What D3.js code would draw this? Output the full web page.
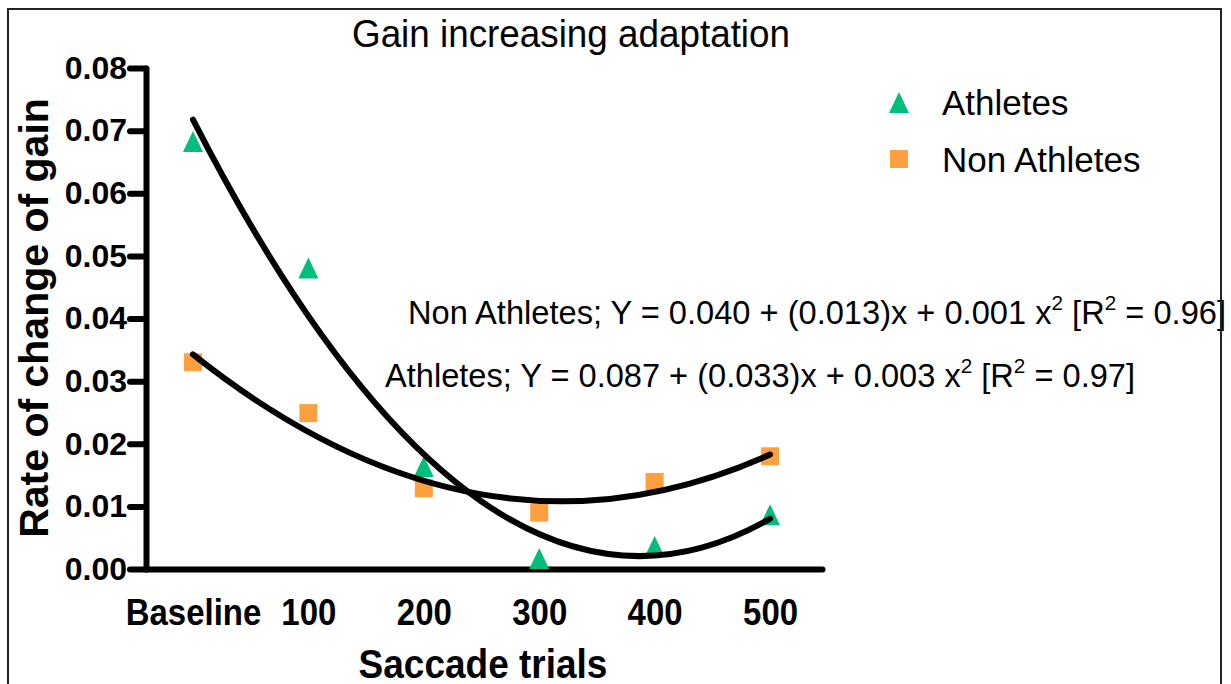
<!DOCTYPE html>
<html>
<head>
<meta charset="utf-8">
<script src="https://cdn.jsdelivr.net/npm/d3@7"></script>
<style>
  body { margin: 0; background: #fff; }
  svg { display: block; font-family: "Liberation Sans", Arial, sans-serif; }
  .axis path, .axis line { stroke: #000; stroke-width: 6; stroke-linecap: round; }
  .axis text { font-weight: bold; fill: #000; }
</style>
</head>
<body>
<div id="chart"></div>
<script>
// --- data ---
const categories = ["Baseline", "100", "200", "300", "400", "500"];
const athletes = [0.0682, 0.0480, 0.0163, 0.0016, 0.0035, 0.0086];
const nonAthletes = [0.0330, 0.0249, 0.0129, 0.0090, 0.0139, 0.0180];
const yTicks = [0, 0.01, 0.02, 0.03, 0.04, 0.05, 0.06, 0.07, 0.08];

const W = 1231, H = 684;
const svg = d3.select("#chart").append("svg").attr("width", W).attr("height", H);

const x = d3.scaleLinear().domain([-0.407, 5.45]).range([146, 822]);
const y = d3.scaleLinear().domain([0, 0.08]).range([569, 68]);

// least squares quadratic fit y = a + b*i + c*i^2
function quadFit(ys) {
  const s = [0, 0, 0, 0, 0], t = [0, 0, 0];
  ys.forEach((v, i) => {
    for (let k = 0; k < 5; k++) s[k] += Math.pow(i, k);
    for (let k = 0; k < 3; k++) t[k] += v * Math.pow(i, k);
  });
  const M = [[s[0], s[1], s[2]], [s[1], s[2], s[3]], [s[2], s[3], s[4]]];
  const det = m => m[0][0]*(m[1][1]*m[2][2]-m[1][2]*m[2][1]) - m[0][1]*(m[1][0]*m[2][2]-m[1][2]*m[2][0]) + m[0][2]*(m[1][0]*m[2][1]-m[1][1]*m[2][0]);
  const D = det(M);
  const col = j => M.map((r, i) => r.map((v, k) => k === j ? t[i] : v));
  return [det(col(0)) / D, det(col(1)) / D, det(col(2)) / D];
}

// frame
svg.append("path").attr("d", `M8,${H} V9 H1221 V${H}`)
  .attr("fill", "none").attr("stroke", "#222").attr("stroke-width", 2);

// title
svg.append("text").attr("x", 352).attr("y", 47)
  .attr("textLength", 438).attr("lengthAdjust", "spacingAndGlyphs")
  .style("font-size", "38px").text("Gain increasing adaptation");

// axes
const yAxis = svg.append("g").attr("class", "axis").attr("transform", "translate(146,0)")
  .call(d3.axisLeft(y).tickValues(yTicks).tickFormat(d3.format(".2f")).tickSize(16).tickSizeOuter(0).tickPadding(3));
yAxis.selectAll("text").style("font-size", "32px");

const xAxis = svg.append("g").attr("class", "axis").attr("transform", "translate(0,569)")
  .call(d3.axisBottom(x).tickValues(d3.range(categories.length)).tickFormat(i => categories[i]).tickSize(0).tickSizeOuter(0));
xAxis.selectAll(".tick line").remove();
// labels a bit taller than wide, as in the original
xAxis.selectAll("text").style("font-size", "33px")
  .attr("y", 0).attr("dy", 0).attr("transform", "translate(0,56) scale(1,1.12)");

// axis titles
svg.append("text").attr("transform", "translate(48,318) rotate(-90)")
  .attr("text-anchor", "middle").style("font-size", "41px").style("font-weight", "bold")
  .text("Rate of change of gain");
svg.append("text").attr("transform", "translate(483,678) scale(1,1.12)")
  .attr("text-anchor", "middle").style("font-size", "37px").style("font-weight", "bold")
  .text("Saccade trials");

// markers
const green = "#00bf7a", orange = "#ffa040";
const tri = "M0,-11L10,10L-10,10Z";
svg.append("g").selectAll("path").data(athletes).join("path")
  .attr("d", tri).attr("fill", green)
  .attr("transform", (d, i) => `translate(${x(i)},${y(d)})`);
svg.append("g").selectAll("rect").data(nonAthletes).join("rect")
  .attr("x", (d, i) => x(i) - 9).attr("y", d => y(d) - 9)
  .attr("width", 18).attr("height", 18).attr("fill", orange);

// fitted curves: parabola segment as exact quadratic bezier
[athletes, nonAthletes].forEach(ys => {
  const [a, b, c] = quadFit(ys);
  const f = i => a + b * i + c * i * i;
  const i0 = 0, i1 = ys.length - 1, im = (i0 + i1) / 2;
  const ctrl = f(i0) + (b + 2 * c * i0) * (im - i0);
  const p = d3.path();
  p.moveTo(x(i0), y(f(i0)));
  p.quadraticCurveTo(x(im), y(ctrl), x(i1), y(f(i1)));
  svg.append("path").attr("d", p.toString()).attr("fill", "none")
    .attr("stroke", "#000").attr("stroke-width", 6).attr("stroke-linecap", "round");
});

// legend
const legend = svg.append("g");
legend.append("path").attr("d", tri).attr("fill", green).attr("transform", "translate(899,103)");
legend.append("rect").attr("x", 890).attr("y", 150).attr("width", 18).attr("height", 18).attr("fill", orange);
legend.append("text").attr("x", 942).attr("y", 115).style("font-size", "35px").text("Athletes");
legend.append("text").attr("x", 942).attr("y", 172).style("font-size", "35px").text("Non Athletes");

// equations
function equation(xp, yp, len, parts) {
  const t = svg.append("text").attr("x", xp).attr("y", yp)
    .attr("textLength", len).attr("lengthAdjust", "spacingAndGlyphs")
    .style("font-size", "33px");
  let up = false;
  parts.forEach(s => {
    if (s === "2") {
      t.append("tspan").attr("dy", -14).style("font-size", "21px").text("2");
      up = true;
    } else {
      t.append("tspan").attr("dy", up ? 14 : 0).text(s);
      up = false;
    }
  });
}
equation(408, 324, 818, ["Non Athletes; Y = 0.040 + (0.013)x + 0.001 x", "2", " [R", "2", " = 0.96]"]);
equation(385, 387, 750, ["Athletes; Y = 0.087 + (0.033)x + 0.003 x", "2", " [R", "2", " = 0.97]"]);

// right frame edge over the clipped bracket
svg.append("line").attr("x1", 1221).attr("x2", 1221).attr("y1", 9).attr("y2", H)
  .attr("stroke", "#222").attr("stroke-width", 2);
</script>
</body>
</html>
